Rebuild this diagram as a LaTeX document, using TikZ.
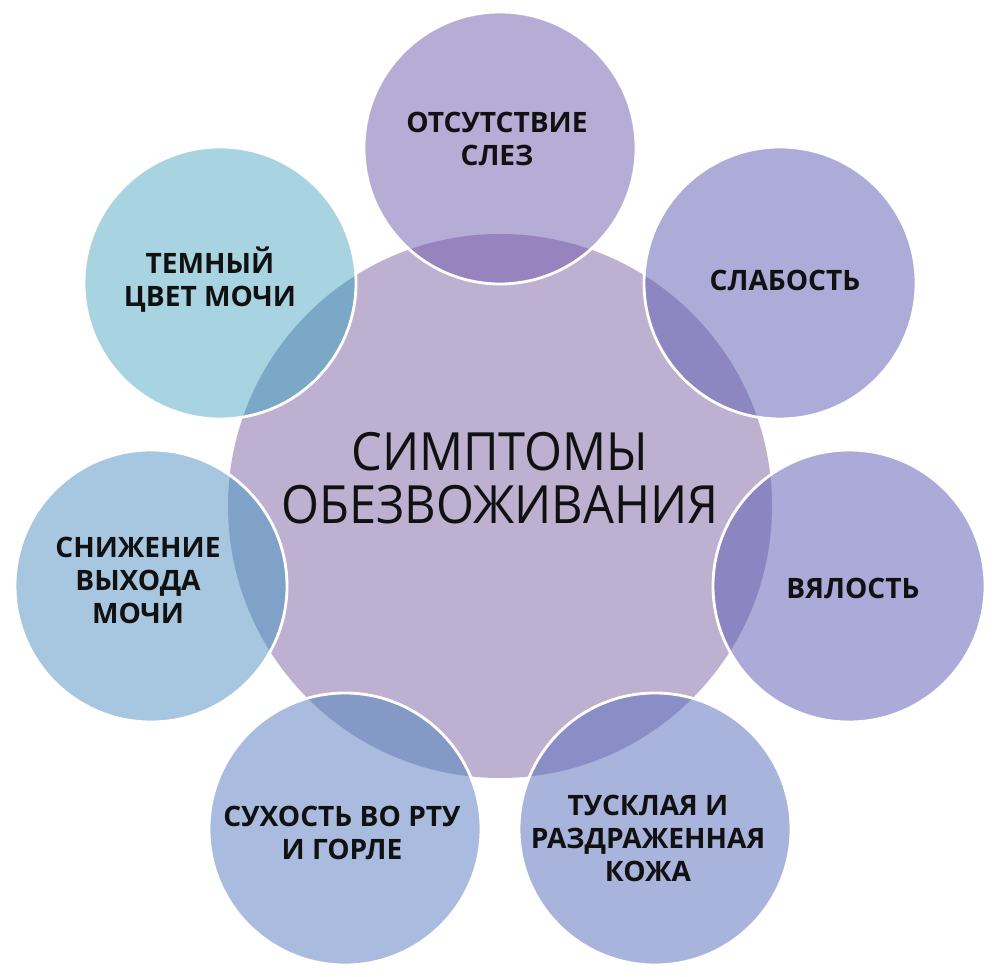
\documentclass[tikz,border=0pt]{standalone}
\usepackage{fontspec}
\setmainfont{Open Sans}
\definecolor{centrefill}{HTML}{BEB0D0}
\definecolor{textdark}{HTML}{111111}
% symptom circles
\definecolor{cTears}{HTML}{B6ADD6}
\definecolor{cWeak}{HTML}{ADABD8}
\definecolor{cLimp}{HTML}{ABAAD9}
\definecolor{cSkin}{HTML}{A9B4DC}
\definecolor{cMouth}{HTML}{A9BCE0}
\definecolor{cOutput}{HTML}{A7C7E0}
\definecolor{cUrine}{HTML}{A8D4E2}
% overlaps with the centre
\definecolor{oTears}{HTML}{9783BD}
\definecolor{oWeak}{HTML}{8E86C0}
\definecolor{oLimp}{HTML}{8B85C2}
\definecolor{oSkin}{HTML}{8A8EC6}
\definecolor{oMouth}{HTML}{8599C6}
\definecolor{oOutput}{HTML}{80A2C8}
\definecolor{oUrine}{HTML}{7BA8C6}
\tikzset{
  symptom/.style={circle, minimum size=2.72cm, inner sep=0pt},
  rim/.style={draw=white, line width=0.8pt},
  sylabel/.style={align=center, text=textdark,
    font=\fontsize{8}{9.4}\selectfont\bfseries},
}
\begin{document}
\begin{tikzpicture}
    \useasboundingbox (0,0) rectangle (10,9.76);
    \node[circle, minimum size=5.44cm, inner sep=0pt, fill=centrefill]
    (centre) at (5.00,4.70) {};

    \node[symptom, fill=cTears] (tears) at (5.00,8.28) {};
    \node[symptom, fill=cWeak] (weak) at (7.80,6.93) {};
    \node[symptom, fill=cLimp] (limp) at (8.49,3.90) {};
    \node[symptom, fill=cSkin] (skin) at (6.55,1.47) {};
    \node[symptom, fill=cMouth] (mouth) at (3.45,1.47) {};
    \node[symptom, fill=cOutput] (output) at (1.51,3.90) {};
    \node[symptom, fill=cUrine] (urine) at (2.20,6.93) {};

    % darker where they lie over the centre
    \begin{scope}
        \clip (centre.center) circle (2.72);
        \fill[oTears] (tears.center) circle (1.36);
        \fill[oWeak] (weak.center) circle (1.36);
        \fill[oLimp] (limp.center) circle (1.36);
        \fill[oSkin] (skin.center) circle (1.36);
        \fill[oMouth] (mouth.center) circle (1.36);
        \fill[oOutput] (output.center) circle (1.36);
        \fill[oUrine] (urine.center) circle (1.36);
    \end{scope}
    \draw[rim] (tears.center) circle (1.36);
    \draw[rim] (weak.center) circle (1.36);
    \draw[rim] (limp.center) circle (1.36);
    \draw[rim] (skin.center) circle (1.36);
    \draw[rim] (mouth.center) circle (1.36);
    \draw[rim] (output.center) circle (1.36);
    \draw[rim] (urine.center) circle (1.36);

    \node[align=center, text=textdark,
    font=\fontsize{15}{15}\selectfont\addfontfeature{FakeStretch=0.925}]
    (title) at (5.00,4.98) {СИМПТОМЫ\\ОБЕЗВОЖИВАНИЯ};

    \node[sylabel] (tearstext) at (4.97,8.37) {ОТСУТСТВИЕ\\СЛЕЗ};
    \node[sylabel] (weaktext) at (7.85,6.96) {СЛАБОСТЬ};
    \node[sylabel] (limptext) at (8.53,3.88) {ВЯЛОСТЬ};
    \node[sylabel] (skintext) at (6.48,1.38) {ТУСКЛАЯ И\\РАЗДРАЖЕННАЯ\\КОЖА};
    \node[sylabel] (mouthtext) at (3.42,1.43) {СУХОСТЬ ВО РТУ\\И ГОРЛЕ};
    \node[sylabel] (outputtext) at (1.38,3.96) {СНИЖЕНИЕ\\ВЫХОДА\\МОЧИ};
    \node[sylabel] (urinetext) at (2.10,6.96) {ТЕМНЫЙ\\ЦВЕТ МОЧИ};
\end{tikzpicture}
\end{document}
